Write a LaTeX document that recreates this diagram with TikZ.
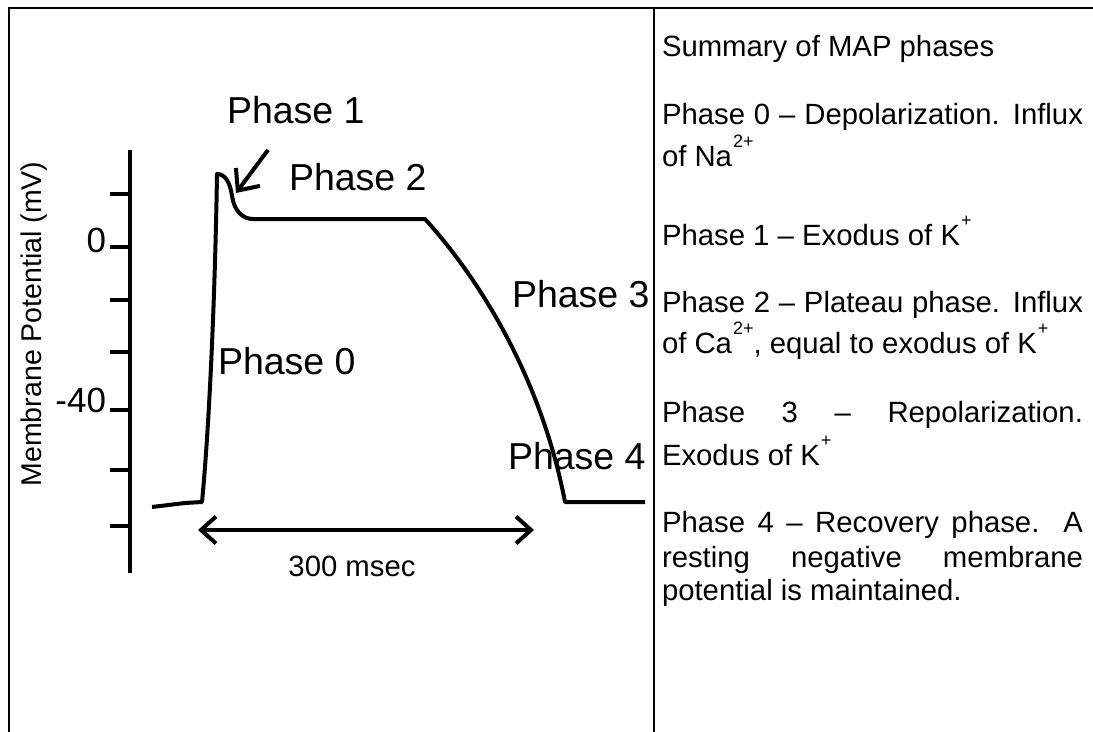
\documentclass[tikz,border=0pt]{standalone}
\usepackage{fontspec}
\setmainfont{Liberation Sans}
\usetikzlibrary{arrows.meta}
\newcommand\bigtxt{\fontsize{37.5bp}{40bp}\selectfont}
\newcommand\midtxt{\fontsize{29.3bp}{34bp}\selectfont}
\newcommand\axtxt{\fontsize{28.5bp}{32bp}\selectfont}
\newcommand\ticktxt{\fontsize{35bp}{38bp}\selectfont}
\newcommand\supx[1]{\kern1bp\raisebox{19bp}{\fontsize{18bp}{18bp}\selectfont #1}}
\begin{document}
\begin{tikzpicture}[x=1bp,y=-1bp,
  frame/.style={line width=2bp},
  curve/.style={line width=4bp, line join=round},
  axisline/.style={line width=4bp},
  arr/.style={line width=4bp, -{Straight Barb[length=17bp,width=30bp]}},
  dbl/.style={line width=4bp, {Straight Barb[length=15bp,width=27bp]}-{Straight Barb[length=15bp,width=27bp]}},
  lbl/.style={anchor=base west, inner sep=0pt, outer sep=0pt, font=\bigtxt},
  rt/.style={anchor=base west, inner sep=0pt, outer sep=0pt, font=\midtxt},
  tl/.style={anchor=base east, inner sep=0pt, outer sep=0pt, font=\ticktxt},
]
\useasboundingbox (0,0) rectangle (1093,732);
\fill[white] (0,0) rectangle (1093,732);
% frame
\coordinate (ftl) at (9.3,8.5);
\coordinate (ftr) at (1093,8.5);
\coordinate (fbl) at (9.3,732);
\draw[frame] (ftr) -- (ftl) -- (fbl);
\coordinate (dt) at (654,8.5);
\coordinate (db) at (654,732);
\draw[line width=1.5bp] (dt) -- (db);
% axis
\coordinate (at) at (130,150);
\coordinate (ab) at (130,573);
\draw[axisline] (at) -- (ab);
\foreach \y [count=\i] in {194,247,300,352,410,470,526} {
  \coordinate (t\i) at (130,\y);
  \draw[axisline] (t\i) -- ++(-20,0);
}
\node[tl] (l0) at (106,252) {0};
\node[tl] (l40) at (106,412) {-40};
\node[rotate=90, anchor=base, inner sep=0pt, font=\axtxt] (ylab) at (41,324) {Membrane Potential (mV)};
% action potential curve
\coordinate (s0) at (152,507);
\coordinate (s1) at (202,502);
\coordinate (pk) at (217,174);
\coordinate (p2s) at (253,219);
\coordinate (p2e) at (425,219);
\coordinate (p4s) at (565,502);
\coordinate (p4e) at (645,502);
\draw[curve] (s0) -- (185,503) -- (s1)
  .. controls (209,430) and (215,300) .. (pk)
  .. controls (225,174) and (230,182) .. (232,196)
  .. controls (234,210) and (242,219) .. (p2s)
  -- (p2e)
  .. controls (475,274) and (540,372) .. (p4s)
  -- (p4e);
% phase 1 arrow
\coordinate (a1s) at (268,150);
\coordinate (a1e) at (236,193);
\draw[arr] (a1s) -- (a1e);
% duration arrow
\coordinate (dl) at (198,530);
\coordinate (dr) at (534,530);
\draw[dbl] (dl) -- (dr);
\node[anchor=base, inner sep=0pt, font=\midtxt] (ms) at (352,576) {300 msec};
% phase labels
\node[lbl] (ph1) at (227,124) {Phase 1};
\node[lbl] (ph2) at (289,191) {Phase 2};
\node[lbl] (ph0) at (218,374) {Phase 0};
\node[lbl] (ph3) at (512,307) {Phase 3};
\node[lbl] (ph4) at (508,469) {Phase 4};
% summary text
\node[rt] (r0) at (662,57) {Summary of MAP phases};
\node[rt] (r1) at (662,125) {\makebox[421bp][s]{Phase 0 \textendash{} Depolarization. Influx}};
\node[rt] (r2) at (662,167) {of Na\supx{2+}};
\node[rt] (r3) at (662,245) {Phase 1 \textendash{} Exodus of K\supx{+}};
\node[rt] (r4) at (662,312) {\makebox[421bp][s]{Phase 2 \textendash{} Plateau phase. Influx}};
\node[rt] (r5) at (662,353) {of Ca\supx{2+}, equal to exodus of K\supx{+}};
\node[rt] (r6) at (662,422) {\makebox[421bp][s]{Phase 3 \textendash{} Repolarization.}};
\node[rt] (r7) at (662,465) {Exodus of K\supx{+}};
\node[rt] (r8) at (662,532) {\makebox[421bp][s]{Phase 4 \textendash{} Recovery phase. A}};
\node[rt] (r9) at (662,567) {\makebox[421bp][s]{resting negative membrane}};
\node[rt] (r10) at (662,600) {potential is maintained.};
\end{tikzpicture}
\end{document}
